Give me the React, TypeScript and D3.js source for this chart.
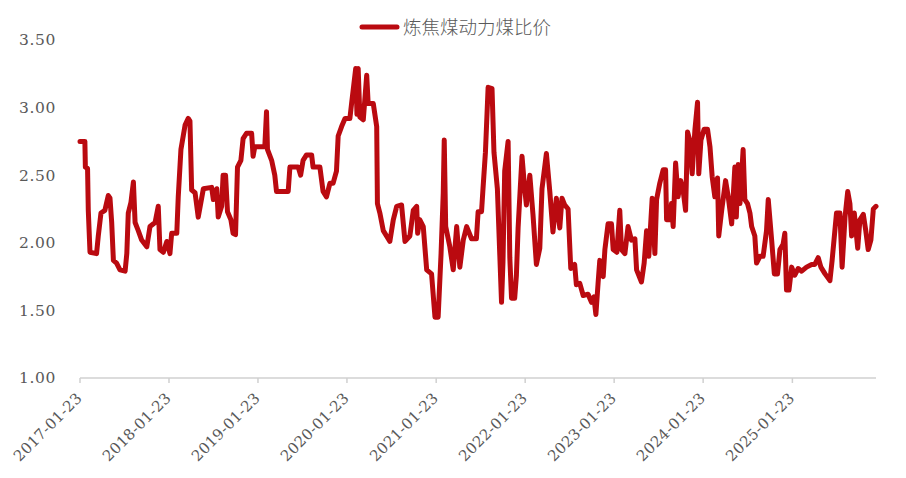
import React from "react";
import * as d3 from "d3";

const seriesName = "炼焦煤动力煤比价";

const dates: string[] = [
  "2017-01-23","2017-02-12","2017-02-14","2017-02-23","2017-02-26","2017-03-05","2017-04-01","2017-04-08","2017-04-19","2017-05-05",
  "2017-05-19","2017-05-26","2017-06-02","2017-06-09","2017-06-22","2017-07-06","2017-07-27","2017-08-03","2017-08-09","2017-08-20",
  "2017-08-30","2017-09-06","2017-09-19","2017-10-03","2017-10-24","2017-11-06","2017-11-27","2017-12-10","2017-12-17","2017-12-31",
  "2018-01-14","2018-01-27","2018-02-03","2018-02-24","2018-03-02","2018-03-13","2018-03-30","2018-04-12","2018-04-19","2018-04-26",
  "2018-05-10","2018-05-23","2018-06-03","2018-06-13","2018-07-17","2018-07-24","2018-08-07","2018-08-13","2018-08-27","2018-09-02",
  "2018-09-12","2018-09-20","2018-10-04","2018-10-13","2018-10-23","2018-10-31","2018-11-14","2018-11-23","2018-12-07","2018-12-28",
  "2019-01-03","2019-01-10","2019-02-20","2019-02-27","2019-03-03","2019-03-20","2019-04-02","2019-04-09","2019-05-27","2019-06-03",
  "2019-07-07","2019-07-17","2019-07-27","2019-08-10","2019-08-31","2019-09-06","2019-10-04","2019-10-17","2019-10-31","2019-11-14",
  "2019-11-27","2019-12-11","2019-12-18","2020-01-01","2020-01-15","2020-02-04","2020-02-11","2020-02-28","2020-03-04","2020-03-09",
  "2020-03-16","2020-03-30","2020-04-13","2020-04-19","2020-05-10","2020-05-24","2020-05-27","2020-06-06","2020-06-20","2020-07-17",
  "2020-07-31","2020-08-14","2020-09-03","2020-09-17","2020-10-07","2020-10-21","2020-11-04","2020-11-08","2020-11-17","2020-12-01",
  "2020-12-15","2021-01-04","2021-01-18","2021-01-31","2021-02-12","2021-02-21","2021-02-25","2021-03-03","2021-03-20","2021-04-03",
  "2021-04-17","2021-04-30","2021-05-14","2021-05-28","2021-06-17","2021-07-07","2021-07-14","2021-07-28","2021-08-03","2021-08-13",
  "2021-08-24","2021-09-09","2021-09-17","2021-10-01","2021-10-18","2021-10-24","2021-10-31","2021-11-14","2021-11-21","2021-11-28",
  "2021-12-11","2021-12-18","2021-12-25","2022-01-10","2022-01-21","2022-01-28","2022-02-11","2022-02-24","2022-03-10","2022-03-24",
  "2022-04-02","2022-04-20","2022-05-04","2022-05-17","2022-05-31","2022-06-14","2022-06-23","2022-07-04","2022-07-18","2022-07-29",
  "2022-08-14","2022-08-21","2022-09-04","2022-09-18","2022-10-08","2022-10-22","2022-11-01","2022-11-09","2022-11-18","2022-11-25",
  "2022-12-09","2022-12-16","2022-12-29","2023-01-12","2023-01-19","2023-02-03","2023-02-15","2023-02-22","2023-03-08","2023-03-21",
  "2023-04-04","2023-04-18","2023-04-25","2023-05-15","2023-05-26","2023-06-05","2023-06-14","2023-06-28","2023-07-09","2023-07-16",
  "2023-07-29","2023-08-12","2023-08-22","2023-08-26","2023-09-08","2023-09-15","2023-09-22","2023-10-02","2023-10-12","2023-10-23",
  "2023-11-01","2023-11-12","2023-11-20","2023-11-29","2023-12-09","2023-12-20","2023-12-31","2024-01-05","2024-01-14","2024-01-27",
  "2024-02-10","2024-02-20","2024-02-29","2024-03-11","2024-03-22","2024-03-27","2024-04-08","2024-04-24","2024-05-05","2024-05-19",
  "2024-06-01","2024-06-07","2024-06-15","2024-06-22","2024-07-05","2024-07-12","2024-07-23","2024-08-02","2024-08-09","2024-08-22",
  "2024-08-29","2024-09-12","2024-09-25","2024-10-09","2024-10-16","2024-10-30","2024-11-10","2024-11-23","2024-12-03","2024-12-16",
  "2024-12-23","2024-12-30","2025-01-09","2025-01-20","2025-02-02","2025-02-16","2025-03-02","2025-03-22","2025-04-12","2025-04-25",
  "2025-05-09","2025-05-20","2025-06-06","2025-06-26","2025-07-05","2025-07-23","2025-08-06","2025-08-15","2025-08-27","2025-09-07",
  "2025-09-16","2025-09-23","2025-10-04","2025-10-18","2025-10-27","2025-11-10","2025-11-20","2025-11-30","2025-12-11","2025-12-21",
  "2026-01-01"
];

const ratio: number[] = [
  2.75,2.75,2.56,2.55,2.24,1.93,1.92,2.05,2.22,2.24,
  2.35,2.33,2.15,1.87,1.85,1.80,1.79,1.92,2.22,2.30,
  2.45,2.15,2.09,2.02,1.97,2.12,2.15,2.27,1.95,1.93,
  2.01,1.92,2.07,2.07,2.34,2.69,2.87,2.92,2.90,2.39,
  2.37,2.19,2.30,2.40,2.41,2.32,2.40,2.19,2.27,2.50,
  2.50,2.23,2.17,2.07,2.06,2.56,2.61,2.77,2.81,2.81,
  2.64,2.71,2.71,2.97,2.69,2.61,2.50,2.38,2.38,2.56,
  2.56,2.50,2.61,2.65,2.65,2.56,2.56,2.38,2.34,2.44,
  2.44,2.53,2.79,2.86,2.92,2.92,3.03,3.29,2.95,3.29,
  2.93,2.91,3.24,3.03,3.03,2.86,2.29,2.22,2.09,2.01,
  2.17,2.27,2.28,2.01,2.05,2.24,2.27,2.07,2.17,2.12,
  1.80,1.77,1.45,1.45,1.92,2.37,2.76,2.12,1.97,1.80,
  2.12,1.82,2.02,2.12,2.03,2.03,2.23,2.23,2.40,2.67,
  3.15,3.14,2.67,2.40,1.56,1.86,2.53,2.75,1.89,1.59,
  1.59,1.76,2.11,2.64,2.40,2.28,2.50,2.21,1.84,1.96,
  2.40,2.66,2.38,2.08,2.33,2.11,2.33,2.28,2.25,1.81,
  1.84,1.69,1.70,1.61,1.62,1.56,1.60,1.47,1.70,1.87,
  1.75,1.95,2.14,2.14,1.95,1.93,2.24,1.95,1.92,2.12,
  2.02,2.03,1.80,1.71,1.85,2.09,1.90,2.33,1.92,2.32,
  2.44,2.54,2.54,2.17,2.17,2.29,2.12,2.59,2.34,2.46,
  2.40,2.24,2.82,2.76,2.51,2.83,3.04,2.51,2.76,2.84,
  2.84,2.71,2.49,2.34,2.48,2.05,2.24,2.46,2.34,2.14,
  2.56,2.19,2.58,2.29,2.69,2.32,2.29,2.22,2.12,2.05,
  1.85,1.90,1.90,2.09,2.32,2.02,1.77,1.77,1.95,1.99,
  2.07,1.65,1.65,1.82,1.76,1.81,1.79,1.82,1.84,1.84,
  1.89,1.82,1.77,1.72,1.87,2.22,2.22,1.82,2.19,2.38,
  2.29,2.05,2.22,1.96,2.17,2.21,2.09,1.95,2.02,2.25,
  2.27
];

const yTicks: number[] = [1.0, 1.5, 2.0, 2.5, 3.0, 3.5];
const xTickLabels: string[] = [
  "2017-01-23","2018-01-23","2019-01-23","2020-01-23","2021-01-23",
  "2022-01-23","2023-01-23","2024-01-23","2025-01-23"
];

const W = 906;
const H = 478;
const M = { left: 80, right: 30, top: 40, bottom: 100 };

export default function App() {
  const parse = d3.timeParse("%Y-%m-%d");
  const pts = dates.map((d, i) => ({ date: parse(d) as Date, v: ratio[i] }));
  const x = d3
    .scaleTime()
    .domain([parse(dates[0]) as Date, parse(dates[dates.length - 1]) as Date])
    .range([M.left, W - M.right]);
  const y = d3.scaleLinear().domain([1, 3.5]).range([H - M.bottom, M.top]);
  const line = d3
    .line<{ date: Date; v: number }>()
    .x((p) => x(p.date))
    .y((p) => y(p.v));
  const grey = "#595959";
  const red = "#BA0A10";
  const labelFont = "DejaVu Serif";
  const axisY = y(1);

  return (
    <svg
      width={W}
      height={H}
      style={{ position: "absolute", left: 0, top: 0, background: "#fff" }}
    >
      {/* legend */}
      <line x1={362} x2={397} y1={27} y2={27} stroke={red} strokeWidth={5} strokeLinecap="round" />
      <text x={403} y={34} fontSize={18.5} fill={grey} style={{ fontFamily: "Noto Sans CJK SC, sans-serif", fontWeight: 300 }}>
        {seriesName}
      </text>

      {/* y labels */}
      {yTicks.map((t) => (
        <text
          key={t}
          x={56}
          y={y(t)}
          dy="0.35em"
          textAnchor="end"
          fontSize={15.5}
          fill={grey}
          style={{ fontFamily: labelFont, letterSpacing: "0.6px" }}
        >
          {d3.format(".2f")(t)}
        </text>
      ))}

      {/* x axis */}
      <line x1={M.left} x2={W - M.right} y1={axisY} y2={axisY} stroke="#d0d0d0" strokeWidth={1.5} />
      {xTickLabels.map((s) => {
        const tx = x(parse(s) as Date);
        return (
          <g key={s}>
            <line x1={tx} x2={tx} y1={axisY} y2={axisY + 5} stroke="#d0d0d0" strokeWidth={1.5} />
            <text
              transform={`translate(${tx + 3},${axisY + 21}) rotate(-45)`}
              textAnchor="end"
              fontSize={15}
              fill={grey}
              style={{ fontFamily: labelFont, letterSpacing: "0.3px" }}
            >
              {s}
            </text>
          </g>
        );
      })}

      {/* series */}
      <path
        d={line(pts) || ""}
        fill="none"
        stroke={red}
        strokeWidth={5}
        strokeLinejoin="round"
        strokeLinecap="round"
      />
    </svg>
  );
}
